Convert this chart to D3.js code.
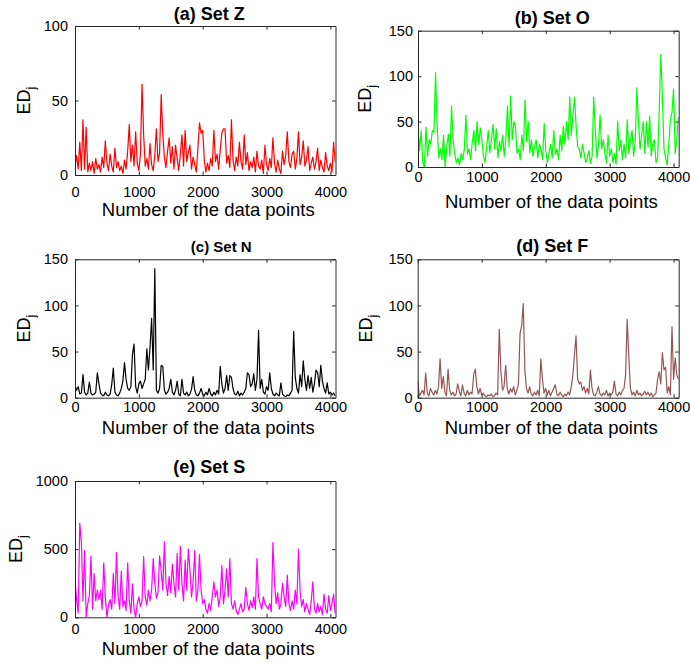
<!DOCTYPE html>
<html>
<head>
<meta charset="utf-8">
<script src="https://cdn.jsdelivr.net/npm/d3@7"></script>
<style>
  body { margin: 0; background: #fff; }
  text { font-family: "Liberation Sans", Arial, Helvetica, sans-serif; fill: #000; }
</style>
</head>
<body>
<svg id="fig" width="690" height="668"></svg>
<script>
// Sample spacing along the x axis (data point index)
const STEP = 25;
const X_MAX = 4080;
const xTickValues = [0, 1000, 2000, 3000, 4000];
const xAxisTitle = "Number of the data points";

// ED_j per set, one value every STEP data points
const setZ = [6,13,4,22,3,37,4,32,2,8,3,9,1,11,4,7,2,12,5,23,8,3,14,6,2,18,5,9,3,6,1,10,4,16,34,9,20,6,29,8,
  3,14,61,27,6,11,4,21,7,3,13,31,9,15,54,27,12,5,16,25,8,19,4,20,11,3,14,27,6,30,9,15,20,4,12,7,2,18,35,28,
  30,10,2,8,3,11,6,30,9,14,4,17,28,31,31,8,13,5,37,10,3,12,6,22,9,4,27,7,15,3,9,5,12,2,16,6,4,10,1,20,
  7,3,11,5,25,8,2,10,4,1,16,7,13,29,9,5,14,16,4,11,29,7,12,23,6,10,19,3,8,12,4,9,18,3,10,5,2,15,6,3,
  8,2,22,9];

const setO = [45,18,40,5,0,44,12,30,25,40,38,104,44,10,20,8,35,0,22,36,12,67,30,14,5,10,2,15,8,20,57,14,20,8,28,40,18,50,25,43,
  30,12,5,22,40,16,30,47,20,42,10,28,18,35,12,30,67,22,78,30,50,45,15,20,8,35,18,74,28,50,16,30,12,22,30,10,25,20,8,48,
  18,5,15,25,10,40,14,20,8,35,18,45,25,50,30,77,35,56,77,45,22,20,10,25,15,5,10,18,4,12,77,40,10,25,57,20,30,15,5,35,
  12,20,5,15,3,50,18,30,8,25,10,52,15,30,40,12,28,87,50,20,35,50,15,50,22,56,12,25,30,5,10,60,124,76,20,10,2,25,52,60,
  86,15,30,55];

const setN = [13,8,12,4,5,25,6,3,5,17,5,3,4,6,27,15,5,3,2,6,3,2,4,14,32,6,3,2,5,10,18,38,20,10,8,12,47,58,12,5,
  15,18,10,15,20,53,30,55,86,30,140,8,5,10,35,34,8,4,6,10,20,6,3,8,18,4,2,20,5,3,6,2,4,9,23,8,3,2,5,10,
  4,2,6,3,10,4,2,6,3,8,4,34,15,5,10,24,8,24,22,10,4,3,7,2,5,3,6,10,27,25,12,15,26,8,20,73,10,20,6,4,
  12,8,27,10,4,2,5,3,2,16,4,2,1,3,2,5,8,72,22,10,5,25,12,40,20,8,24,10,22,6,15,30,27,12,35,18,10,5,16,4,
  6,3,5,2];

const setF = [18,2,5,8,3,27,5,2,10,6,3,8,4,12,42,10,23,6,2,31,8,3,6,2,4,15,7,2,14,5,2,8,3,6,4,25,31,12,4,10,
  3,5,2,1,3,2,4,1,2,5,3,74,30,8,12,35,10,4,10,6,12,3,8,15,70,78,102,30,10,5,12,4,2,6,3,8,2,42,20,5,
  10,3,8,2,6,10,14,4,2,6,3,1,4,2,6,3,12,24,46,67,20,15,17,8,12,5,10,4,30,10,3,2,6,12,4,2,5,3,8,2,
  5,3,6,18,4,2,6,3,8,10,25,85,45,10,3,6,2,8,3,5,2,4,7,3,6,2,5,1,3,5,20,28,15,49,30,33,5,12,3,77,
  20,43,25,20];

const setS = [270,130,30,690,550,120,490,0,100,160,450,60,320,120,200,130,200,60,400,150,0,90,130,60,320,100,475,150,60,340,80,120,50,400,120,30,245,60,0,100,
  150,80,120,445,150,90,200,120,200,430,250,140,180,450,340,200,555,250,160,300,180,390,250,150,470,200,520,250,120,420,200,500,350,150,260,490,120,200,460,200,
  100,130,60,30,100,50,150,260,150,200,80,150,380,100,200,355,150,430,100,60,120,50,20,60,100,40,60,220,100,50,120,70,150,60,430,150,100,60,150,100,
  80,60,100,40,550,250,100,180,60,100,250,150,80,310,100,50,120,60,200,100,500,200,80,130,40,100,60,20,120,260,60,30,100,40,80,20,170,60,30,160,
  50,100,170,30];

// Panel layout: plot box [left, top, right, bottom] and text placement
const panels = [
  { title: "(a) Set Z", data: setZ, color: "#ff0000", yMax: 100, yTicks: [0, 50, 100],
    box: [75, 26, 335.5, 175], titleY: 19.5, titleSize: 18, xPad: 12, xLabelY: 216, yLabelX: 30 },
  { title: "(b) Set O", data: setO, color: "#00ff00", yMax: 150, yTicks: [0, 50, 100, 150],
    box: [418, 30.7, 678.7, 167], titleY: 23.5, titleSize: 18, xPad: 5, xLabelY: 208, yLabelX: 371 },
  { title: "(c) Set N", data: setN, color: "#000000", yMax: 150, yTicks: [0, 50, 100, 150],
    box: [75, 259.3, 335.5, 397.7], titleY: 252, titleSize: 15, titleDx: 12, xPad: 4, xLabelY: 433.5, yLabelX: 30 },
  { title: "(d) Set F", data: setF, color: "#955555", yMax: 150, yTicks: [0, 50, 100, 150],
    box: [417.7, 259.3, 678.7, 397.7], titleY: 252, titleSize: 18, xPad: 4, xLabelY: 433.5, yLabelX: 372 },
  { title: "(e) Set S", data: setS, color: "#ff00ff", yMax: 1000, yTicks: [0, 500, 1000],
    box: [75, 481, 335.5, 617.3], titleY: 473, titleSize: 18, xPad: 6, xLabelY: 655, yLabelX: 22 }
];

const svg = d3.select("#fig");
const axisColor = "#262626";
const tickLen = 3.5;
const plain = d3.format("d");

panels.forEach((p, k) => {
  const [L, T, R, B] = p.box;
  const x = d3.scaleLinear().domain([0, X_MAX]).range([L, R]);
  const y = d3.scaleLinear().domain([0, p.yMax]).range([B, T]);
  const g = svg.append("g");

  const clipId = "clip" + k;
  g.append("clipPath").attr("id", clipId)
    .append("rect").attr("x", L).attr("y", T - 1).attr("width", R - L).attr("height", B - T + 1);

  // series line
  const line = d3.line().x((d, i) => x(i * STEP)).y(d => y(d));
  g.append("path")
    .datum(p.data)
    .attr("clip-path", `url(#${clipId})`)
    .attr("fill", "none")
    .attr("stroke", p.color)
    .attr("stroke-width", 1.2)
    .attr("stroke-linejoin", "round")
    .attr("d", line);

  const styleAxis = (sel) => {
    sel.selectAll(".domain").attr("stroke", axisColor).attr("stroke-width", 1);
    sel.selectAll(".tick line").attr("stroke", axisColor).attr("stroke-width", 1);
    sel.selectAll("text").attr("font-size", 14.5).attr("fill", "#1a1a1a");
  };

  // box with inward ticks on all four sides
  g.append("g").attr("transform", `translate(0,${B})`)
    .call(d3.axisBottom(x).tickValues(xTickValues).tickFormat(plain)
      .tickSizeInner(-tickLen).tickSizeOuter(0).tickPadding(p.xPad))
    .call(styleAxis);
  g.append("g").attr("transform", `translate(0,${T})`)
    .call(d3.axisTop(x).tickValues(xTickValues).tickSizeInner(-tickLen).tickSizeOuter(0).tickFormat(""))
    .call(styleAxis);
  g.append("g").attr("transform", `translate(${L},0)`)
    .call(d3.axisLeft(y).tickValues(p.yTicks).tickFormat(plain)
      .tickSizeInner(-tickLen).tickSizeOuter(0).tickPadding(L === 75 ? 7 : 5))
    .call(styleAxis);
  g.append("g").attr("transform", `translate(${R},0)`)
    .call(d3.axisRight(y).tickValues(p.yTicks).tickSizeInner(-tickLen).tickSizeOuter(0).tickFormat(""))
    .call(styleAxis);

  // title
  g.append("text")
    .attr("x", (L + R) / 2 + 4 + (p.titleDx || 0))
    .attr("y", p.titleY)
    .attr("text-anchor", "middle")
    .attr("font-weight", "bold")
    .attr("font-size", p.titleSize)
    .text(p.title);

  // x axis title
  g.append("text")
    .attr("x", (L + R) / 2 + 3)
    .attr("y", p.xLabelY)
    .attr("text-anchor", "middle")
    .attr("font-size", 18.5)
    .text(xAxisTitle);

  // y axis title: ED with subscript j
  const yl = g.append("text")
    .attr("transform", `translate(${p.yLabelX},${(T + B) / 2}) rotate(-90)`)
    .attr("text-anchor", "middle")
    .attr("font-size", 18);
  yl.append("tspan").text("ED");
  yl.append("tspan").attr("font-size", 13).attr("dy", "0.35em").text("j");
});
</script>
</body>
</html>
